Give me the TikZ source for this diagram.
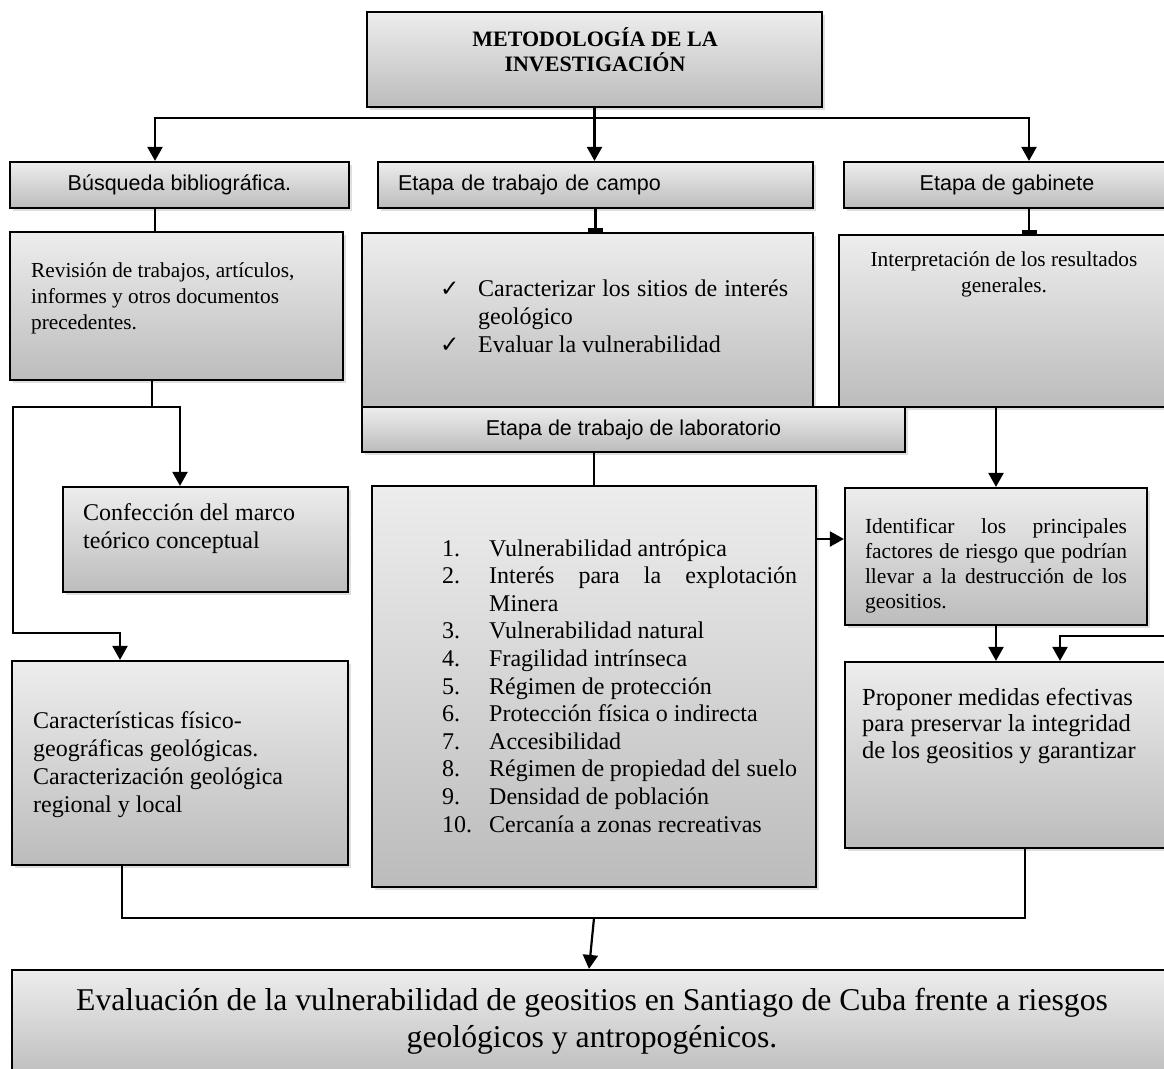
\documentclass[tikz,border=0pt]{standalone}
\usepackage{fontspec}
\setmainfont{Liberation Serif}
\setsansfont{Liberation Sans}
\newfontfamily\checkfont{DejaVu Sans}
\usetikzlibrary{arrows.meta,shadows}
\hyphenpenalty=10000
\definecolor{boxtop}{RGB}{237,237,237}
\definecolor{boxbot}{RGB}{188,188,188}
\tikzset{
  box/.style={draw, line width=2.2pt, top color=boxtop, bottom color=boxbot, inner sep=0pt,
    drop shadow={shadow xshift=3pt, shadow yshift=-3pt, opacity=0.25}},
  head/.style={box, font=\sffamily\fontsize{21.5}{25}\selectfont},
  txt/.style={inner sep=0pt, font=\fontsize{24}{28}\selectfont},
  small/.style={inner sep=0pt, font=\fontsize{21.3}{26.2}\selectfont},
  conn/.style={line width=2.2pt},
  tee/.style={-{Rectangle[length=4pt,width=15pt]}}
}
\begin{document}
\begin{tikzpicture}[x=1pt, y=-1pt, >={Triangle[length=14pt,width=15pt]}]
            \clip (0, 0) rectangle (1164, 1068);

            \node (meto) at (594.5, 59.5) [box, minimum width=455pt, minimum height=95pt] {};
            \node (meto-t) at (595, 50) [inner sep=0pt, align=center, font=\bfseries\fontsize{22}{25}\selectfont] {METODOLOGÍA DE LA\\INVESTIGACIÓN};

            \node (busq) at (179.5, 185) [head, minimum width=339pt, minimum height=46pt] {Búsqueda bibliográfica.};
            \node (campo) at (595.5, 185) [head, minimum width=435pt, minimum height=46pt, text width=395pt] {Etapa de trabajo de campo};
            \node (gab) at (1007, 185) [head, minimum width=326pt, minimum height=46pt] {Etapa de gabinete};

            \node (rev) at (176.5, 306) [box, minimum width=333pt, minimum height=148pt] {};
            \node (rev-t) at (31, 298.5) [small, anchor=west, align=left] {Revisión de trabajos, artículos,\\informes y otros documentos\\precedentes.};

            \node (campo-c) at (587.5, 320) [box, minimum width=451pt, minimum height=174pt] {};
            \node (campo-t) at (440, 318.5) [txt, anchor=west] {\begin{tabular}{@{}p{26pt}p{310pt}@{}}
                {\checkfont\fontsize{23}{24}\selectfont ✓} & Caracterizar los sitios de interés geológico\\
                {\checkfont\fontsize{23}{24}\selectfont ✓} & Evaluar la vulnerabilidad
            \end{tabular}};

            \node (gab-c) at (1009.5, 321) [box, minimum width=341pt, minimum height=172pt] {};
            \node (gab-t) at (1004, 274) [small, align=center] {Interpretación de los resultados\\generales.};

            \node (lab) at (633.5, 429.5) [head, minimum width=543pt, minimum height=45pt] {Etapa de trabajo de laboratorio};

            \node (conf) at (205.5, 539.5) [box, minimum width=285pt, minimum height=105pt] {};
            \node (conf-t) at (83, 529) [txt, anchor=west, align=left] {Confección del marco\\teórico conceptual};

            \node (lista) at (594, 686.5) [box, minimum width=444pt, minimum height=401pt] {};
            \node (lista-t) at (442, 688.5) [txt, anchor=west, font=\fontsize{24}{27.6}\selectfont] {\begin{tabular}{@{}p{35pt}p{308pt}@{}}
                1. & Vulnerabilidad antrópica\\
                2. & Interés para la explotación Minera\\
                3. & Vulnerabilidad natural\\
                4. & Fragilidad intrínseca\\
                5. & Régimen de protección\\
                6. & Protección física o indirecta\\
                7. & Accesibilidad\\
                8. & Régimen de propiedad del suelo\\
                9. & Densidad de población\\
                10. & Cercanía a zonas recreativas
            \end{tabular}};

            \node (ident) at (996, 556.5) [box, minimum width=302pt, minimum height=137pt] {};
            \node (ident-t) at (996, 565.5) [inner sep=0pt, text width=262pt, align=justify, font=\fontsize{21.5}{25}\selectfont] {Identificar los principales factores de riesgo que podrían llevar a la destrucción de los geositios.};

            \node (cara) at (180, 763) [box, minimum width=336pt, minimum height=204pt] {};
            \node (cara-t) at (33, 764.5) [txt, anchor=west, align=left] {Características físico-\\geográficas geológicas.\\Caracterización geológica\\regional y local};

            \node (prop) at (1012.5, 755) [box, minimum width=335pt, minimum height=186pt] {};
            \node (prop-t) at (862, 726) [inner sep=0pt, anchor=west, align=left, font=\fontsize{24.5}{26.5}\selectfont] {Proponer medidas efectivas\\para preservar la integridad\\de los geositios y garantizar};

            \node (final) at (596, 1025) [box, minimum width=1168pt, minimum height=110pt] {};
            \node (final-t) at (592, 1021.5) [inner sep=0pt, align=center, font=\fontsize{31.7}{37}\selectfont] {Evaluación de la vulnerabilidad de geositios en Santiago de Cuba frente a riesgos\\geológicos y antropogénicos.};

            \coordinate (top-l) at (155, 118);
            \coordinate (top-r) at (1029, 118);
            \coordinate (rev-j) at (152, 407);
            \coordinate (left-a) at (13, 407);
            \coordinate (left-b) at (180, 407);
            \coordinate (left-c) at (13, 633);
            \coordinate (left-d) at (120, 633);
            \coordinate (list-a) at (816, 539);
            \coordinate (right-a) at (1170, 636);
            \coordinate (right-b) at (1060, 636);
            \coordinate (bot-l) at (122, 918);
            \coordinate (bot-r) at (1025, 918);
            \coordinate (bot-m) at (594, 918);

            \draw[conn, ->] (meto.south) -- (meto.south |- campo.north);
            \draw[conn, <->] (top-l |- busq.north) -- (top-l) -- (top-r) -- (top-r |- gab.north);

            \draw[conn] (busq.south -| top-l) -- (top-l |- rev.north);
            \draw[conn, tee] (campo.south) -- (campo.south |- campo-c.north);
            \draw[conn, tee] (top-r |- gab.south) -- (top-r |- gab-c.north);

            \draw[conn] (rev.south -| rev-j) -- (rev-j);
            \draw[conn, <->] (left-b |- conf.north) -- (left-b) -- (left-a) -- (left-c) -- (left-d) -- (left-d |- cara.north);

            \draw[conn] (lab.south -| lista.north) -- (lista.north);
            \draw[conn, ->] (list-a) -- (list-a -| ident.west);
            \draw[conn, ->] (gab-c.south -| ident.north) -- (ident.north);
            \draw[conn, ->] (ident.south) -- (ident.south |- prop.north);
            \draw[conn, ->] (right-a) -- (right-b) -- (right-b |- prop.north);

            \draw[conn] (cara.south -| bot-l) -- (bot-l) -- (bot-r) -- (prop.south -| bot-r);
            \draw[conn, ->] (bot-m) -- ([xshift=-7pt]final.north);

\end{tikzpicture}
\end{document}
